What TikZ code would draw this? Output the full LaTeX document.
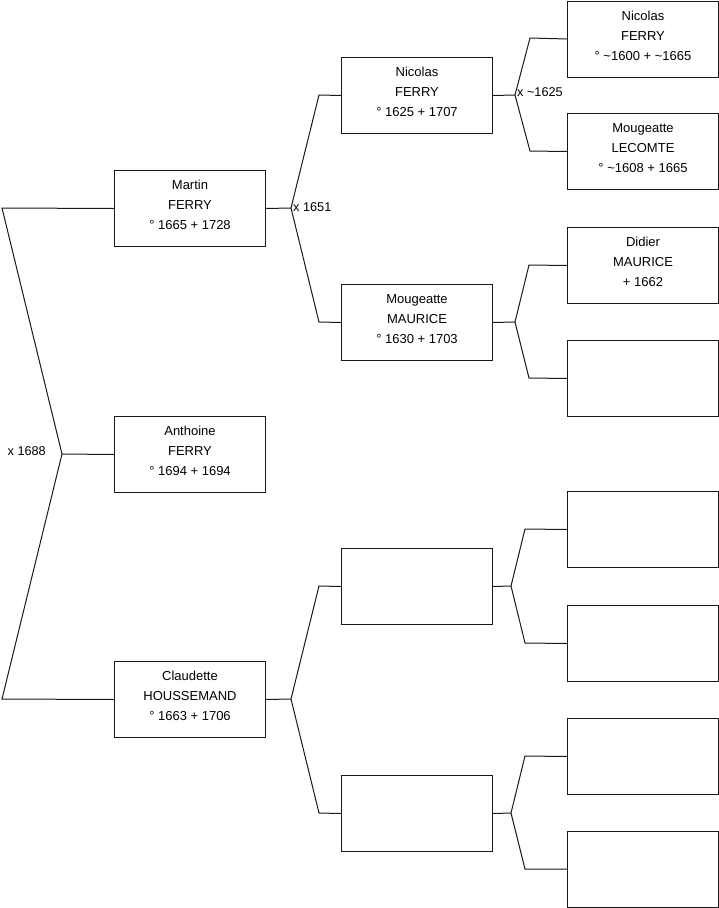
\documentclass[tikz,border=0pt]{standalone}
\usepackage{fontspec}
\setmainfont{Liberation Sans}
\begin{document}
\begin{tikzpicture}[x=1pt,y=-1pt,
 person/.style={draw=black!90, line width=1pt, minimum width=151pt, minimum height=76pt, inner sep=0pt, text depth=7pt, align=center, font=\fontsize{13}{20}\selectfont, anchor=north west},
 link/.style={draw=black!90, line width=1pt},
 lbl/.style={font=\fontsize{12.7}{15}\selectfont, inner sep=0pt}]
\useasboundingbox (0,0) rectangle (719,908);
% level 1
\node[person] (m) at (114,170) {Martin\\FERRY\\° 1665 + 1728};
\node[person] (a) at (114,416) {Anthoine\\FERRY\\° 1694 + 1694};
\node[person] (c) at (114,661) {Claudette\\HOUSSEMAND\\° 1663 + 1706};
% level 2
\node[person] (n2) at (341,57) {Nicolas\\FERRY\\° 1625 + 1707};
\node[person] (mm) at (341,284) {Mougeatte\\MAURICE\\° 1630 + 1703};
\node[person] (b1) at (341,548) {};
\node[person] (b2) at (341,775) {};
% level 3
\node[person] (p1) at (567,0.5) {Nicolas\\FERRY\\° \textasciitilde 1600 + \textasciitilde 1665};
\node[person] (p2) at (567,113) {Mougeatte\\LECOMTE\\° \textasciitilde 1608 + 1665};
\node[person] (p3) at (567,227) {Didier\\MAURICE\\+ 1662};
\node[person] (p4) at (567,340) {};
\node[person] (p5) at (567,491) {};
\node[person] (p6) at (567,605) {};
\node[person] (p7) at (567,718) {};
\node[person] (p8) at (567,830.5) {};
% junctions
\coordinate (j0) at (62,454);
\coordinate (j1) at (291,208);
\coordinate (j2) at (515,95);
\coordinate (j3) at (515,322);
\coordinate (j4) at (291,699);
\coordinate (j5) at (511,586);
\coordinate (j6) at (511,813);
% links
\draw[link] (m.west) -- (2,208) -- (j0) -- (2,699) -- (c.west);
\draw[link] (j0) -- (a.west);
\draw[link] (m.east) -- (j1);
\draw[link] (n2.west) -- (319,95) -- (j1) -- (319,322) -- (mm.west);
\draw[link] (c.east) -- (j4);
\draw[link] (b1.west) -- (319,586) -- (j4) -- (319,813) -- (b2.west);
\draw[link] (n2.east) -- (j2);
\draw[link] (p1.west) -- (530,38) -- (j2) -- (530,151) -- (p2.west);
\draw[link] (mm.east) -- (j3);
\draw[link] (p3.west) -- (529,265) -- (j3) -- (529,378) -- (p4.west);
\draw[link] (b1.east) -- (j5);
\draw[link] (p5.west) -- (525,529) -- (j5) -- (525,643) -- (p6.west);
\draw[link] (b2.east) -- (j6);
\draw[link] (p7.west) -- (525,756) -- (j6) -- (525,869) -- (p8.west);
% labels
\node[lbl, anchor=east] (l0) at (46,451) {x 1688};
\node[lbl, anchor=west] (l1) at (293,207) {x 1651};
\node[lbl, anchor=west] (l2) at (517,92) {x \textasciitilde 1625};
\end{tikzpicture}
\end{document}
